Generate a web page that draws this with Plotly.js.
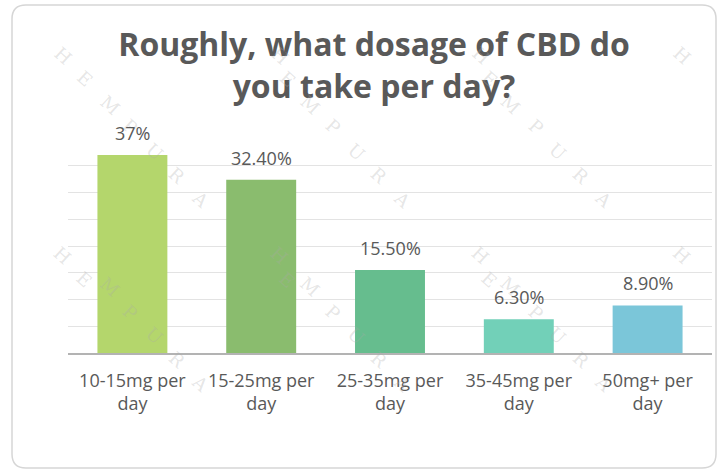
<!DOCTYPE html>
<html>
<head>
<meta charset="utf-8">
<script src="https://cdn.plot.ly/plotly-3.0.1.min.js"></script>
<style>
  html, body { margin: 0; padding: 0; background: #ffffff; }
  #chart { width: 724px; height: 475px; }
</style>
</head>
<body>
<div id="chart"></div>
<script>
// Daily CBD dosage survey results
const categories = ["10-15mg per<br>day", "15-25mg per<br>day", "25-35mg per<br>day", "35-45mg per<br>day", "50mg+ per<br>day"];
const shares = [37, 32.4, 15.5, 6.3, 8.9];
const labelDecimals = [0, 2, 2, 2, 2];
const barColors = ["#b4d66c", "#8abc6e", "#66bd8e", "#72d0b8", "#7bc6d9"];
const watermarkWord = ["H", "E", "M", "P", "U", "R", "A"];

const W = 724, H = 475;
const M = { l: 68, r: 12, t: 139, b: 122 };
const plotW = W - M.l - M.r, plotH = H - M.t - M.b;
// pixel position -> paper coordinates
const px = x => (x - M.l) / plotW;
const py = y => (H - M.b - y) / plotH;

const trace = {
  type: "bar",
  x: categories,
  y: shares,
  marker: { color: barColors, line: { width: 0 } },
  hoverinfo: "skip"
};

// value labels above each bar
const valueLabels = shares.map((v, i) => ({
  x: categories[i], y: v, xref: "x", yref: "y",
  text: v.toFixed(labelDecimals[i]) + "%",
  showarrow: false, yanchor: "bottom", yshift: 8,
  font: { family: "Open Sans, sans-serif", size: 18, color: "#595959" }
}));

// faint diagonal brand watermark tiled across the card
const watermark = [];
const colsX = [47, 264, 481, 698];
const rowsY = [40, 255, 470];
rowsY.forEach(y0 => colsX.forEach(x0 => {
  watermarkWord.forEach((ch, k) => {
    const cx = x0 + 23 * k, cy = y0 + 24 * k;
    if (cx > W - 12 || cy > H - 12) return;
    watermark.push({
      x: px(cx), y: py(cy), xref: "paper", yref: "paper",
      text: ch, showarrow: false, textangle: 42,
      font: { family: "DejaVu Serif, serif", size: 18, color: "rgba(170,170,170,0.3)" }
    });
  });
}));

// rounded card outline
const L = px(12), R = px(716), T = py(5), B = py(468);
const rx = 14 / plotW, ry = 14 / plotH;
const cardPath = `M ${L + rx},${T} L ${R - rx},${T} Q ${R},${T} ${R},${T - ry} L ${R},${B + ry} Q ${R},${B} ${R - rx},${B} L ${L + rx},${B} Q ${L},${B} ${L},${B + ry} L ${L},${T - ry} Q ${L},${T} ${L + rx},${T} Z`;

const layout = {
  width: W, height: H,
  margin: M,
  paper_bgcolor: "#ffffff",
  plot_bgcolor: "rgba(0,0,0,0)",
  showlegend: false,
  bargap: 0.457,
  title: {
    text: "Roughly, what dosage of CBD do<br>you take per day?",
    x: 374 / W, xanchor: "center", xref: "container",
    y: 1 - 56 / H, yanchor: "top", yref: "container",
    font: { family: "Open Sans, sans-serif", size: 32, color: "#595959", weight: "bold" }
  },
  xaxis: {
    showgrid: false, showline: true, linecolor: "#b3b3b3", linewidth: 2,
    ticks: "", ticklabelstandoff: 10,
    tickfont: { family: "Open Sans, sans-serif", size: 18, color: "#595959" },
    fixedrange: true
  },
  yaxis: {
    range: [0, 40], dtick: 5, showticklabels: false,
    showgrid: true, gridcolor: "#e3e3e3", gridwidth: 1,
    zeroline: false, fixedrange: true
  },
  shapes: [{
    type: "path", xref: "paper", yref: "paper", path: cardPath,
    line: { color: "#d6d6d6", width: 1.5 }, fillcolor: "rgba(0,0,0,0)", layer: "below"
  }],
  annotations: watermark.concat(valueLabels)
};

Plotly.newPlot("chart", [trace], layout, { displayModeBar: false, staticPlot: true });
</script>
</body>
</html>
